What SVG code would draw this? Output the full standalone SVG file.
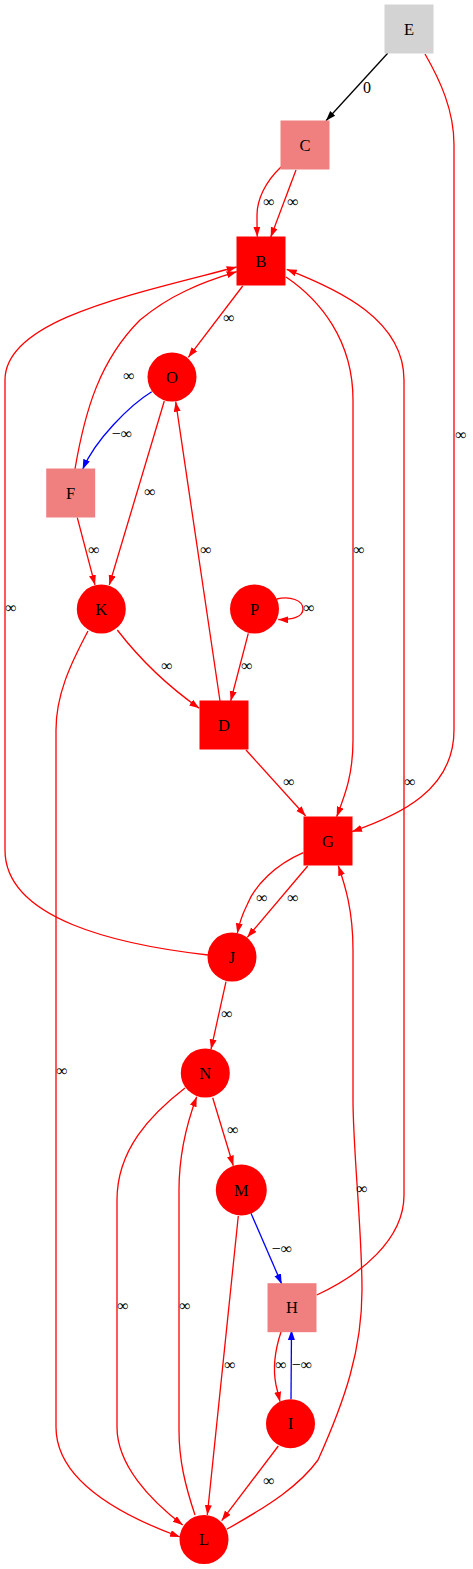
<svg xmlns="http://www.w3.org/2000/svg" width="473" height="1569" viewBox="0 0 473 1569">
<style>
.n text{font-family:"Liberation Serif","Times New Roman",serif;font-size:16.5px;text-anchor:middle;fill:#000}
.red{fill:#ff0000}
.coral{fill:#f08080}
.grey{fill:#d3d3d3}
.e path{fill:none;stroke-width:1.3}
.r path{stroke:#ff0000}
.b path{stroke:#0000ff}
.k path{stroke:#000000}
.lbl{font-family:"Liberation Serif","Times New Roman",serif;font-size:16px;text-anchor:middle;fill:#000}
</style>
<defs>
<marker id="ar" markerUnits="userSpaceOnUse" markerWidth="10" markerHeight="8" refX="10" refY="3.5" orient="auto"><path d="M0,0 L10,3.5 L0,7 z" fill="#ff0000"/></marker>
<marker id="ab" markerUnits="userSpaceOnUse" markerWidth="10" markerHeight="8" refX="10" refY="3.5" orient="auto"><path d="M0,0 L10,3.5 L0,7 z" fill="#0000ff"/></marker>
<marker id="ak" markerUnits="userSpaceOnUse" markerWidth="10" markerHeight="8" refX="10" refY="3.5" orient="auto"><path d="M0,0 L10,3.5 L0,7 z" fill="#000000"/></marker>
</defs>
<rect width="473" height="1569" fill="#ffffff"/>
<g id="edges" class="e">
<g class="k"><path d="M387.7,53.3 L326,120.7" marker-end="url(#ak)"/></g>
<g class="r">
<path d="M425,54 C440,80 454,110 454,145 L454,730 C454,790 400,815 352,831.7" marker-end="url(#ar)"/>
<path d="M281,167 C265,182 257,200 257,215 C257,225 257,230 257.3,236.7" marker-end="url(#ar)"/>
<path d="M296,170 L270.7,237.3" marker-end="url(#ar)"/>
<path d="M242.7,286 L188.3,357.3" marker-end="url(#ar)"/>
<path d="M75,469 C85,410 100,360 140,320 C170,295 200,283 236.7,271.7" marker-end="url(#ar)"/>
<path d="M208,955 C120,945 5,920 5,850 L5,380 C5,320 130,295 236.7,267" marker-end="url(#ar)"/>
<path d="M286,277 C320,300 353,340 353,400 L353,740 C353,775 345,795 336.7,816.7" marker-end="url(#ar)"/>
<path d="M316.7,1295 C360,1275 404,1240 404,1195 L404,380 C404,320 340,290 286.7,269.3" marker-end="url(#ar)"/>
<path d="M164.3,401 L109.3,585" marker-end="url(#ar)"/>
<path d="M220,701 L175.7,401.7" marker-end="url(#ar)"/>
<path d="M77.3,517.7 L95,585" marker-end="url(#ar)"/>
<path d="M117.3,630 Q152,675 199.3,708.3" marker-end="url(#ar)"/>
<path d="M88,631 C70,665 56,695 56,730 L56,1427 C56,1480 120,1515 180,1537" marker-end="url(#ar)"/>
<path d="M276.7,599 C290,596 303,600 303,609 C303,617 292,620 278.3,619.5" marker-end="url(#ar)"/>
<path d="M248.3,633.3 L230.7,701" marker-end="url(#ar)"/>
<path d="M246,750 L305.7,816" marker-end="url(#ar)"/>
<path d="M303.3,852.7 C275,865 255,885 247,905 C242,915 239,925 237.3,933.3" marker-end="url(#ar)"/>
<path d="M307.7,866 L247.3,937.3" marker-end="url(#ar)"/>
<path d="M226.7,1529.3 C270,1505 300,1485 318,1460 C345,1400 362,1350 362,1290 C362,1230 353,1150 353,1100 L353,950 C353,910 345,885 338.3,865.7" marker-end="url(#ar)"/>
<path d="M226,981.7 L211,1049.3" marker-end="url(#ar)"/>
<path d="M212.7,1097.7 L233.3,1165.7" marker-end="url(#ar)"/>
<path d="M185,1088 C150,1115 117,1150 117,1200 L117,1427 C117,1465 150,1500 182.7,1525" marker-end="url(#ar)"/>
<path d="M195,1515 C185,1485 179,1460 179,1430 L179,1190 C179,1150 188,1120 196.7,1096.7" marker-end="url(#ar)"/>
<path d="M238.3,1216 L207.3,1515" marker-end="url(#ar)"/>
<path d="M281,1332 C275,1350 273,1370 276,1385 L280,1401.7" marker-end="url(#ar)"/>
<path d="M278.3,1446 L221.7,1520.7" marker-end="url(#ar)"/>
</g>
<g class="b">
<path d="M151.7,391.7 C130,405 95,440 82.7,469.3" marker-end="url(#ab)"/>
<path d="M251,1213.3 L281.7,1284" marker-end="url(#ab)"/>
<path d="M291,1399.3 L291.5,1330" marker-end="url(#ab)"/>
</g>
<g id="labels">
<text class="lbl" x="367" y="92.5">0</text>
<text class="lbl" x="461" y="440">∞</text>
<text class="lbl" x="269" y="207">∞</text>
<text class="lbl" x="293" y="207">∞</text>
<text class="lbl" x="229" y="323">∞</text>
<text class="lbl" x="129" y="381">∞</text>
<text class="lbl" x="122" y="439">−∞</text>
<text class="lbl" x="150" y="497">∞</text>
<text class="lbl" x="94" y="555">∞</text>
<text class="lbl" x="206" y="555">∞</text>
<text class="lbl" x="359" y="555">∞</text>
<text class="lbl" x="11" y="613">∞</text>
<text class="lbl" x="309" y="613">∞</text>
<text class="lbl" x="167" y="671">∞</text>
<text class="lbl" x="247" y="671">∞</text>
<text class="lbl" x="289" y="787">∞</text>
<text class="lbl" x="410" y="787">∞</text>
<text class="lbl" x="262" y="903">∞</text>
<text class="lbl" x="293" y="903">∞</text>
<text class="lbl" x="227" y="1019">∞</text>
<text class="lbl" x="62" y="1076">∞</text>
<text class="lbl" x="233" y="1135">∞</text>
<text class="lbl" x="362" y="1194">∞</text>
<text class="lbl" x="282" y="1254">−∞</text>
<text class="lbl" x="123" y="1311">∞</text>
<text class="lbl" x="185" y="1311">∞</text>
<text class="lbl" x="230" y="1370">∞</text>
<text class="lbl" x="281" y="1370">∞</text>
<text class="lbl" x="302" y="1370">−∞</text>
<text class="lbl" x="269" y="1486">∞</text>
</g>
</g>
<g id="E" class="n"><rect class="grey" x="384.5" y="4.5" width="49" height="49"/><text x="409" y="34.5">E</text></g>
<g id="C" class="n"><rect class="coral" x="280.5" y="120.5" width="49" height="49"/><text x="305" y="150.5">C</text></g>
<g id="B" class="n"><rect class="red" x="236.5" y="236.5" width="49" height="49"/><text x="261" y="266.5">B</text></g>
<g id="O" class="n"><circle class="red" cx="172" cy="377" r="24.5"/><text x="172" y="382.5">O</text></g>
<g id="F" class="n"><rect class="coral" x="46.2" y="468.5" width="49" height="49"/><text x="70.7" y="498.5">F</text></g>
<g id="K" class="n"><circle class="red" cx="101.3" cy="609" r="24.5"/><text x="101.3" y="614.5">K</text></g>
<g id="P" class="n"><circle class="red" cx="254.5" cy="609" r="24.5"/><text x="254.5" y="614.5">P</text></g>
<g id="D" class="n"><rect class="red" x="199.5" y="700.5" width="49" height="49"/><text x="224" y="730.5">D</text></g>
<g id="G" class="n"><rect class="red" x="303.5" y="816.5" width="49" height="49"/><text x="328" y="846.5">G</text></g>
<g id="J" class="n"><circle class="red" cx="232" cy="957" r="24.5"/><text x="232" y="962.5">J</text></g>
<g id="N" class="n"><circle class="red" cx="205.3" cy="1073" r="24.5"/><text x="205.3" y="1078.5">N</text></g>
<g id="M" class="n"><circle class="red" cx="241.3" cy="1190" r="25.5"/><text x="241.3" y="1195.5">M</text></g>
<g id="H" class="n"><rect class="coral" x="267.5" y="1283.2" width="49" height="49"/><text x="292" y="1313.2">H</text></g>
<g id="I" class="n"><circle class="red" cx="290.5" cy="1423.7" r="24.5"/><text x="290.5" y="1429.2">I</text></g>
<g id="L" class="n"><circle class="red" cx="204" cy="1539.5" r="24.5"/><text x="204" y="1545">L</text></g>
</svg>
